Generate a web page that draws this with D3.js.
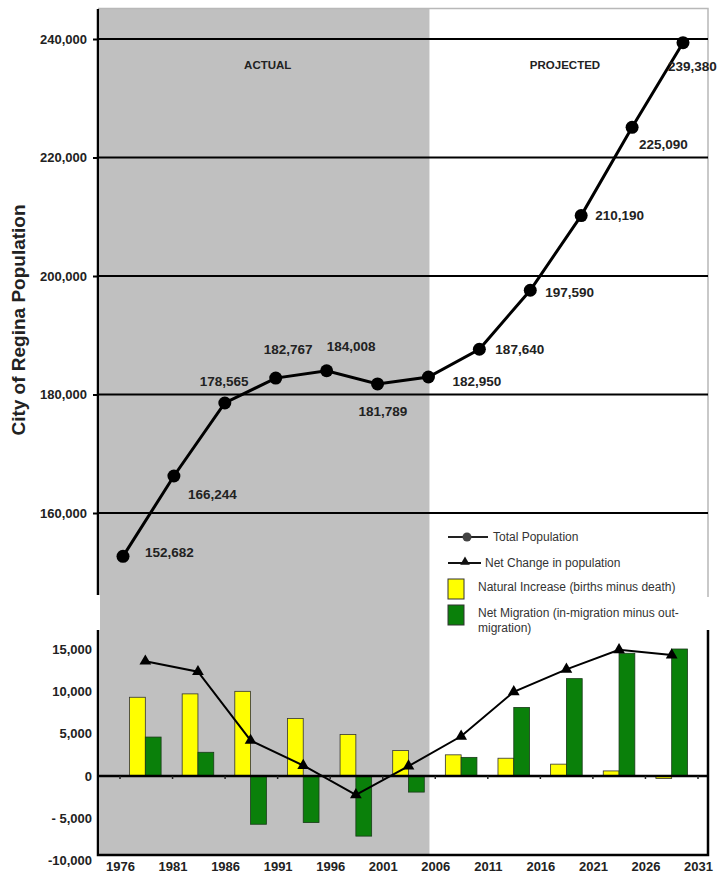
<!DOCTYPE html>
<html>
<head>
<meta charset="utf-8">
<script src="https://cdn.jsdelivr.net/npm/d3@7/dist/d3.min.js"></script>
<style>
  body { margin: 0; background: #fff; }
  svg { display: block; font-family: "Liberation Sans", Arial, sans-serif; }
</style>
</head>
<body>
<svg id="chart" width="719" height="878"></svg>
<script>
// ---------------- DATA ----------------
const years = [1976, 1981, 1986, 1991, 1996, 2001, 2006, 2011, 2016, 2021, 2026, 2031];
const population = [152682, 166244, 178565, 182767, 184008, 181789, 182950, 187640, 197590, 210190, 225090, 239380];
const populationLabels = ["152,682", "166,244", "178,565", "182,767", "184,008", "181,789", "182,950", "187,640", "197,590", "210,190", "225,090", "239,380"];
const periods = ["1976-1981", "1981-1986", "1986-1991", "1991-1996", "1996-2001", "2001-2006", "2006-2011", "2011-2016", "2016-2021", "2021-2026", "2026-2031"];
const naturalIncrease = [9300, 9700, 10000, 6800, 4900, 3000, 2500, 2100, 1400, 600, -300];
const netMigration = [4600, 2800, -5700, -5500, -7100, -1900, 2200, 8100, 11500, 14500, 15000];
const netChange = [13562, 12321, 4202, 1241, -2219, 1161, 4690, 9950, 12600, 14900, 14290];
const topTicks = [160000, 180000, 200000, 220000, 240000];
const topTickLabels = ["160,000", "180,000", "200,000", "220,000", "240,000"];
const bottomTicks = [-10000, -5000, 0, 5000, 10000, 15000];
const bottomTickLabels = ["-10,000", "- 5,000", "0", "5,000", "10,000", "15,000"];
const actualPeriodEnd = 2006;

// label placement (layout, not data): offset from each point
const labelOffsets = [[22,-4],[14,18],[-25,-22],[-12,-29],[0,-24],[-19,27],[24,4],[16,0],[15,2],[14,0],[7,17],[-15,24]];

// ---------------- LAYOUT ----------------
const svg = d3.select("#chart");
const leftX = 98, rightX = 708;
const grayColor = "#c0c0c0";

// Top chart scales
const xTop = d3.scalePoint().domain(years).range([123, 683]);
const yTop = d3.scaleLinear().domain([146160, 245232]).range([595, 8]);

// Bottom chart scales
const xYear = d3.scalePoint().domain(years).range([120, 698]);
const xBand = d3.scaleBand().domain(periods).range([119, 698]).padding(0);
const yBot = d3.scaleLinear().domain([0, 15000]).range([776, 649]);
const botTop = 630, botBottom = 855;

// Gray "actual" region (continuous through both panels)
const grayRight = xTop(actualPeriodEnd) + 1;
svg.append("rect")
  .attr("x", leftX + 2).attr("y", 8)
  .attr("width", grayRight - leftX - 2).attr("height", botBottom - 8)
  .attr("fill", grayColor);

// Top chart light border (top + right)
svg.append("path")
  .attr("d", `M${leftX},8.5 H${rightX} V597`)
  .attr("fill", "none").attr("stroke", "#b8b8b8").attr("stroke-width", 1.5);

// Top gridlines
svg.append("g").selectAll("line").data(topTicks).join("line")
  .attr("x1", leftX).attr("x2", rightX)
  .attr("y1", d => yTop(d)).attr("y2", d => yTop(d))
  .attr("stroke", "#000").attr("stroke-width", 2);

// Top y axis
const gTopAxis = svg.append("g").attr("transform", `translate(${leftX},0)`)
  .call(d3.axisLeft(yTop).tickValues(topTicks).tickFormat((d, i) => topTickLabels[i]).tickSize(5).tickPadding(6));
gTopAxis.select(".domain").remove();
gTopAxis.selectAll(".tick line").attr("stroke", "#000").attr("stroke-width", 2);
gTopAxis.selectAll(".tick text").attr("font-size", 13).attr("font-weight", "bold").attr("fill", "#222")
  .attr("font-family", "Liberation Sans, Arial, sans-serif");
svg.append("line").attr("x1", leftX).attr("x2", leftX).attr("y1", 9).attr("y2", 595)
  .attr("stroke", "#000").attr("stroke-width", 2.5);

// Y title
svg.append("text")
  .attr("transform", `translate(25,320) rotate(-90)`)
  .attr("text-anchor", "middle")
  .attr("font-size", 19).attr("font-weight", "bold").attr("fill", "#222")
  .text("City of Regina Population");

// Section labels
svg.append("text").attr("x", (leftX + grayRight) / 2 + 4).attr("y", 69).attr("text-anchor", "middle")
  .attr("font-size", 11.5).attr("font-weight", "bold").attr("fill", "#222").text("ACTUAL");
svg.append("text").attr("x", 565).attr("y", 69).attr("text-anchor", "middle")
  .attr("font-size", 11.5).attr("font-weight", "bold").attr("fill", "#222").text("PROJECTED");

// Population line
const popData = years.map((y, i) => ({ year: y, v: population[i], label: populationLabels[i], off: labelOffsets[i] }));
svg.append("path").datum(popData)
  .attr("d", d3.line().x(d => xTop(d.year)).y(d => yTop(d.v)))
  .attr("fill", "none").attr("stroke", "#000").attr("stroke-width", 3);
svg.append("g").selectAll("circle").data(popData).join("circle")
  .attr("cx", d => xTop(d.year)).attr("cy", d => yTop(d.v)).attr("r", 6.5).attr("fill", "#000");
svg.append("g").selectAll("text").data(popData).join("text")
  .attr("x", d => xTop(d.year) + d.off[0]).attr("y", d => yTop(d.v) + d.off[1])
  .attr("dy", "0.35em")
  .attr("font-size", 13.5).attr("font-weight", "bold").attr("fill", "#222")
  .text(d => d.label);

// ---------------- LEGEND ----------------
const lg = svg.append("g").attr("font-size", 12).attr("fill", "#333");
lg.append("line").attr("x1", 448).attr("x2", 488).attr("y1", 537).attr("y2", 537).attr("stroke", "#222").attr("stroke-width", 2);
lg.append("circle").attr("cx", 467).attr("cy", 537).attr("r", 4.5).attr("fill", "#444");
lg.append("text").attr("x", 493).attr("y", 537).attr("dy", "0.35em").text("Total Population");
lg.append("line").attr("x1", 448).attr("x2", 481).attr("y1", 563).attr("y2", 563).attr("stroke", "#111").attr("stroke-width", 2);
lg.append("path").attr("d", d3.symbol().type(d3.symbolTriangle).size(40)()).attr("transform", "translate(465,562)").attr("fill", "#111");
lg.append("text").attr("x", 485).attr("y", 563).attr("dy", "0.35em").text("Net Change in population");
lg.append("rect").attr("x", 448).attr("y", 579).attr("width", 16).attr("height", 20).attr("fill", "#ffff00").attr("stroke", "#333").attr("stroke-width", 1);
lg.append("text").attr("x", 478).attr("y", 587).attr("dy", "0.35em").text("Natural Increase (births minus death)");
lg.append("rect").attr("x", 448).attr("y", 605).attr("width", 16).attr("height", 20).attr("fill", "#0a800a").attr("stroke", "#333").attr("stroke-width", 1);
lg.append("text").attr("x", 478).attr("y", 613).attr("dy", "0.35em").text("Net Migration (in-migration minus out-");
lg.append("text").attr("x", 478).attr("y", 628).attr("dy", "0.35em").text("migration)");

// ---------------- BOTTOM CHART ----------------
const barW = xBand.bandwidth() * 0.3;
const bars = periods.map((p, i) => ({ p, nat: naturalIncrease[i], mig: netMigration[i], chg: netChange[i] }));

svg.append("g").selectAll("rect").data(bars).join("rect")
  .attr("x", d => xBand(d.p) + xBand.bandwidth() / 2 - barW)
  .attr("y", d => yBot(Math.max(0, d.nat)))
  .attr("width", barW)
  .attr("height", d => Math.abs(yBot(d.nat) - yBot(0)))
  .attr("fill", "#ffff00").attr("stroke", "#333").attr("stroke-width", 0.8);
svg.append("g").selectAll("rect").data(bars).join("rect")
  .attr("x", d => xBand(d.p) + xBand.bandwidth() / 2)
  .attr("y", d => yBot(Math.max(0, d.mig)))
  .attr("width", barW)
  .attr("height", d => Math.abs(yBot(d.mig) - yBot(0)))
  .attr("fill", "#0a800a").attr("stroke", "#1a3a1a").attr("stroke-width", 0.8);

// zero line with small ticks
svg.append("line").attr("x1", leftX).attr("x2", rightX).attr("y1", yBot(0)).attr("y2", yBot(0))
  .attr("stroke", "#000").attr("stroke-width", 2.5);
svg.append("g").selectAll("line").data(years).join("line")
  .attr("x1", d => xYear(d)).attr("x2", d => xYear(d))
  .attr("y1", yBot(0)).attr("y2", yBot(0) + 3)
  .attr("stroke", "#222").attr("stroke-width", 1.5);

// net change line
svg.append("path").datum(bars)
  .attr("d", d3.line().x(d => xBand(d.p) + xBand.bandwidth() / 2).y(d => yBot(d.chg)))
  .attr("fill", "none").attr("stroke", "#000").attr("stroke-width", 2);
svg.append("g").selectAll("path").data(bars).join("path")
  .attr("d", d3.symbol().type(d3.symbolTriangle).size(60))
  .attr("transform", d => `translate(${xBand(d.p) + xBand.bandwidth() / 2},${yBot(d.chg)})`)
  .attr("fill", "#000");

// frame: left axis, bottom, right
svg.append("path").attr("d", `M${leftX},${botTop} V${botBottom} H${rightX} V${botTop}`)
  .attr("fill", "none").attr("stroke", "#000").attr("stroke-width", 2.5);

// bottom y axis labels
const gBotAxis = svg.append("g").attr("transform", `translate(${leftX},0)`)
  .call(d3.axisLeft(yBot).tickValues(bottomTicks).tickFormat((d, i) => bottomTickLabels[i]).tickSize(0).tickPadding(6));
gBotAxis.select(".domain").remove();
gBotAxis.selectAll(".tick text").attr("font-size", 13).attr("font-weight", "bold").attr("fill", "#222")
  .attr("font-family", "Liberation Sans, Arial, sans-serif");

// bottom x axis labels
const gX = svg.append("g").attr("transform", `translate(0,${botBottom})`)
  .call(d3.axisBottom(xYear).tickSize(0).tickPadding(7));
gX.select(".domain").remove();
gX.selectAll(".tick text").attr("font-size", 13).attr("font-weight", "bold").attr("fill", "#222")
  .attr("font-family", "Liberation Sans, Arial, sans-serif");
</script>
</body>
</html>
